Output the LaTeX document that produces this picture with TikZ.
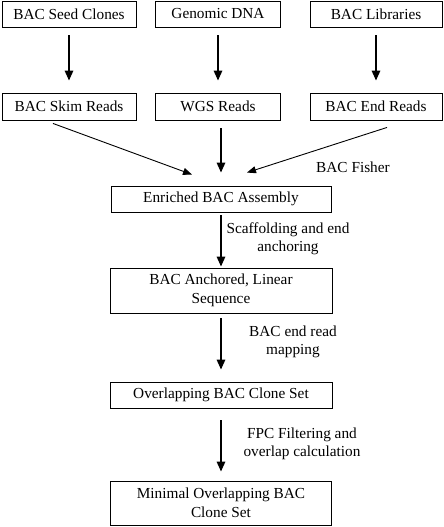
\documentclass[tikz,border=0pt]{standalone}
\usepackage{fontspec}
\setmainfont{Liberation Serif}
\usetikzlibrary{math,arrows.meta}

\begin{document}
\begin{tikzpicture}[x=1pt,y=-1pt,
    box/.style={draw, line width=0.9pt, inner sep=0pt, align=center, font=\fontsize{15.3}{18.5}\selectfont},
    lbl/.style={inner sep=0pt, align=center, font=\fontsize{15.3}{18.5}\selectfont},
    flow/.style={-{Triangle[length=10pt,width=8.5pt]}, line width=1.6pt},
    feed/.style={-{Triangle[length=9pt,width=7pt]}, line width=0.9pt}]
            \tikzmath{\cA = 69; \cB = 218; \cC = 376; \cM = 221;}
            \useasboundingbox (0,0) rectangle (444,527);

            \node[box, minimum width=134pt, minimum height=26pt] (seed) at (\cA, 14) {BAC Seed Clones};
            \node[box, minimum width=125pt, minimum height=26pt] (genomic) at (\cB, 14) {Genomic DNA};
            \node[box, minimum width=132pt, minimum height=26pt] (libs) at (\cC, 14) {BAC Libraries};

            \node[box, minimum width=134pt, minimum height=27pt] (skim) at (\cA, 106.5) {BAC Skim Reads};
            \node[box, minimum width=125pt, minimum height=27pt] (wgs) at (\cB, 106.5) {WGS Reads};
            \node[box, minimum width=132pt, minimum height=27pt] (endreads) at (\cC, 106.5) {BAC End Reads};

            \draw[flow, shorten <=8pt, shorten >=12pt] (seed) -- (skim);
            \draw[flow, shorten <=8pt, shorten >=12pt] (genomic) -- (wgs);
            \draw[flow, shorten <=8pt, shorten >=12pt] (libs) -- (endreads);

            \node[box, minimum width=220pt, minimum height=26pt] (enriched) at (\cM, 199) {Enriched BAC Assembly};
            \node[box, minimum width=222pt, minimum height=45pt] (anchored) at (\cM, 290.5) {BAC Anchored, Linear\\Sequence};
            \node[box, minimum width=222pt, minimum height=26pt] (overlap) at (\cM, 395) {Overlapping BAC Clone Set};
            \node[box, minimum width=221pt, minimum height=44pt] (minimal) at (\cM, 503) {Minimal Overlapping BAC\\Clone Set};

            \draw[feed] ([xshift=-16pt,yshift=-3pt]skim.south) -- ([xshift=-29pt,yshift=11pt]enriched.north);
            \draw[flow, shorten <=8pt, shorten >=13pt] (wgs.south -| enriched.north) -- (enriched.north);
            \draw[feed] ([xshift=11pt,yshift=-7pt]endreads.south) -- ([xshift=26pt,yshift=13pt]enriched.north);
            \node[lbl] (fisher) at (353, 167) {BAC Fisher};

            \draw[flow, shorten <=3pt, shorten >=1pt] (enriched) -- (anchored);
            \node[lbl] (scaff) at (288, 239) {Scaffolding and end\\anchoring};

            \draw[flow, shorten <=5pt, shorten >=12pt] (anchored) -- (overlap);
            \node[lbl] (bacmap) at (293, 342) {BAC end read\\mapping};

            \draw[flow, shorten <=12pt, shorten >=9pt] (overlap) -- (minimal);
            \node[lbl] (fpc) at (302, 444) {FPC Filtering and\\overlap calculation};
        \end{tikzpicture}
\end{document}
